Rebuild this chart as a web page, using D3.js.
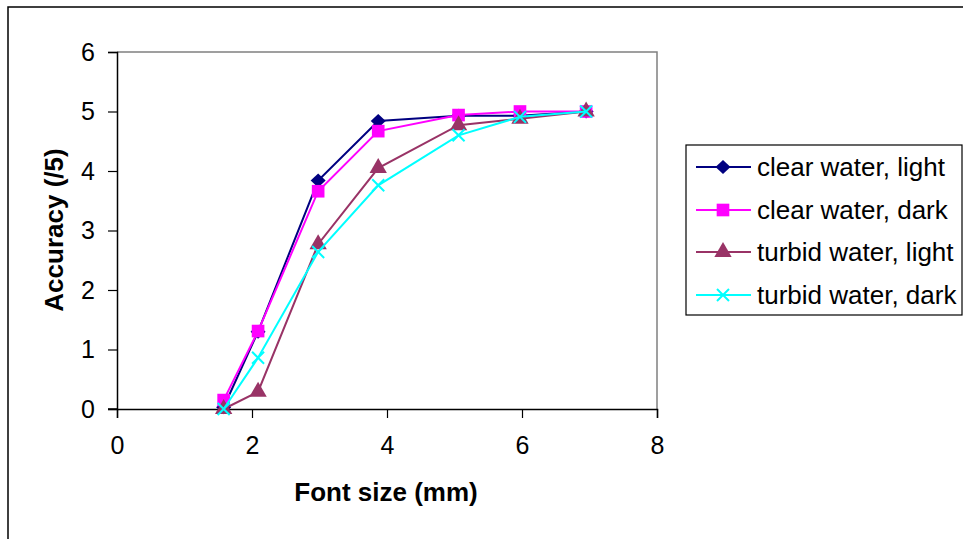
<!DOCTYPE html>
<html><head><meta charset="utf-8">
<script src="https://cdn.jsdelivr.net/npm/d3@7"></script>
<style>body{margin:0;background:#fff}svg{display:block}text{font-family:"Liberation Sans",Arial,sans-serif}</style>
</head><body><svg id="c" width="963" height="539"></svg>
<script>
const fontSizes = [1.58, 2.09, 2.98, 3.87, 5.06, 5.97, 6.95];
const seriesNames = ["clear water, light", "clear water, dark", "turbid water, light", "turbid water, dark"];
const clearLight = [0.03, 1.3, 3.84, 4.84, 4.93, 4.93, 5.0];
const clearDark = [0.15, 1.31, 3.66, 4.67, 4.94, 5.0, 5.0];
const turbidLight = [0.0, 0.29, 2.77, 4.05, 4.77, 4.88, 5.0];
const turbidDark = [0.0, 0.86, 2.64, 3.76, 4.6, 4.91, 5.0];
const xTicks = [0, 2, 4, 6, 8];
const yTicks = [0, 1, 2, 3, 4, 5, 6];
const colors = ["#000080", "#FF00FF", "#993366", "#00FFFF"];
const allSeries = [clearLight, clearDark, turbidLight, turbidDark];

const svg = d3.select("#c");
svg.append("rect").attr("x", 8).attr("y", 7).attr("width", 1000).attr("height", 600)
  .attr("fill", "#fff").attr("stroke", "#000").attr("stroke-width", 1.5);

const x = d3.scaleLinear().domain([0, 8]).range([117, 657]);
const y = d3.scaleLinear().domain([0, 6]).range([409, 52]);

// plot frame (grey top/right)
svg.append("path").attr("d", `M${x(0)},${y(6)}H${x(8)}V${y(0)}`).attr("fill", "none")
  .attr("stroke", "#808080").attr("stroke-width", 1.5);

const xAxis = svg.append("g").attr("transform", `translate(0,${y(0)})`)
  .call(d3.axisBottom(x).tickValues(xTicks).tickSize(9).tickPadding(18).tickFormat(d3.format("d")));
const yAxis = svg.append("g").attr("transform", `translate(${x(0)},0)`)
  .call(d3.axisLeft(y).tickValues(yTicks).tickSize(9).tickPadding(13).tickFormat(d3.format("d")));
[xAxis, yAxis].forEach(g => {
  g.select(".domain").attr("stroke", "#000").attr("stroke-width", 1.5);
  g.selectAll(".tick line").attr("stroke", "#000").attr("stroke-width", 1.2);
  g.selectAll(".tick text").attr("font-size", 25).attr("fill", "#000")
    .style("font-family", '"Liberation Sans",Arial,sans-serif');
});
svg.append("line").attr("x1", 108).attr("x2", x(0)).attr("y1", y(0)).attr("y2", y(0))
  .attr("stroke", "#000").attr("stroke-width", 1.5);

function symPath(i) {
  if (i === 3) {
    const s = 6;
    return `M${-s},${-s}L${s},${s}M${-s},${s}L${s},${-s}`;
  }
  if (i === 0) return "M0,-7L7.5,0L0,7L-7.5,0Z";
  if (i === 1) return d3.symbol(d3.symbolSquare, 160)();
  return d3.symbol(d3.symbolTriangle, 130)();
}

const line = d3.line().x((d, i) => x(fontSizes[i])).y(d => y(d));
allSeries.forEach((vals, si) => {
  svg.append("path").attr("d", line(vals)).attr("fill", "none")
    .attr("stroke", colors[si]).attr("stroke-width", 2);
  svg.append("g").selectAll("path").data(vals).join("path")
    .attr("transform", (d, i) => `translate(${x(fontSizes[i])},${y(d)})`)
    .attr("d", symPath(si))
    .attr("fill", si === 3 ? "none" : colors[si])
    .attr("stroke", colors[si]).attr("stroke-width", si === 3 ? 2 : 0);
});

// axis titles
svg.append("text").attr("x", 386).attr("y", 501).attr("text-anchor", "middle")
  .attr("font-size", 26).attr("font-weight", "bold").text("Font size (mm)");
svg.append("text").attr("transform", "translate(63,230) rotate(-90)").attr("text-anchor", "middle")
  .attr("font-size", 26).attr("font-weight", "bold").text("Accuracy (/5)");

// legend
const lg = svg.append("g");
lg.append("rect").attr("x", 686).attr("y", 145).attr("width", 276).attr("height", 170)
  .attr("fill", "#fff").attr("stroke", "#000").attr("stroke-width", 1.2);
const legY = [167, 210, 252, 295];
seriesNames.forEach((n, i) => {
  lg.append("line").attr("x1", 696).attr("x2", 751).attr("y1", legY[i]).attr("y2", legY[i])
    .attr("stroke", colors[i]).attr("stroke-width", 2);
  lg.append("path").attr("transform", `translate(723,${legY[i]})`).attr("d", symPath(i))
    .attr("fill", i === 3 ? "none" : colors[i]).attr("stroke", colors[i]).attr("stroke-width", i === 3 ? 2 : 0);
  lg.append("text").attr("x", 757).attr("y", legY[i]).attr("dy", "0.35em")
    .attr("font-size", 26).text(n);
});
</script></body></html>
